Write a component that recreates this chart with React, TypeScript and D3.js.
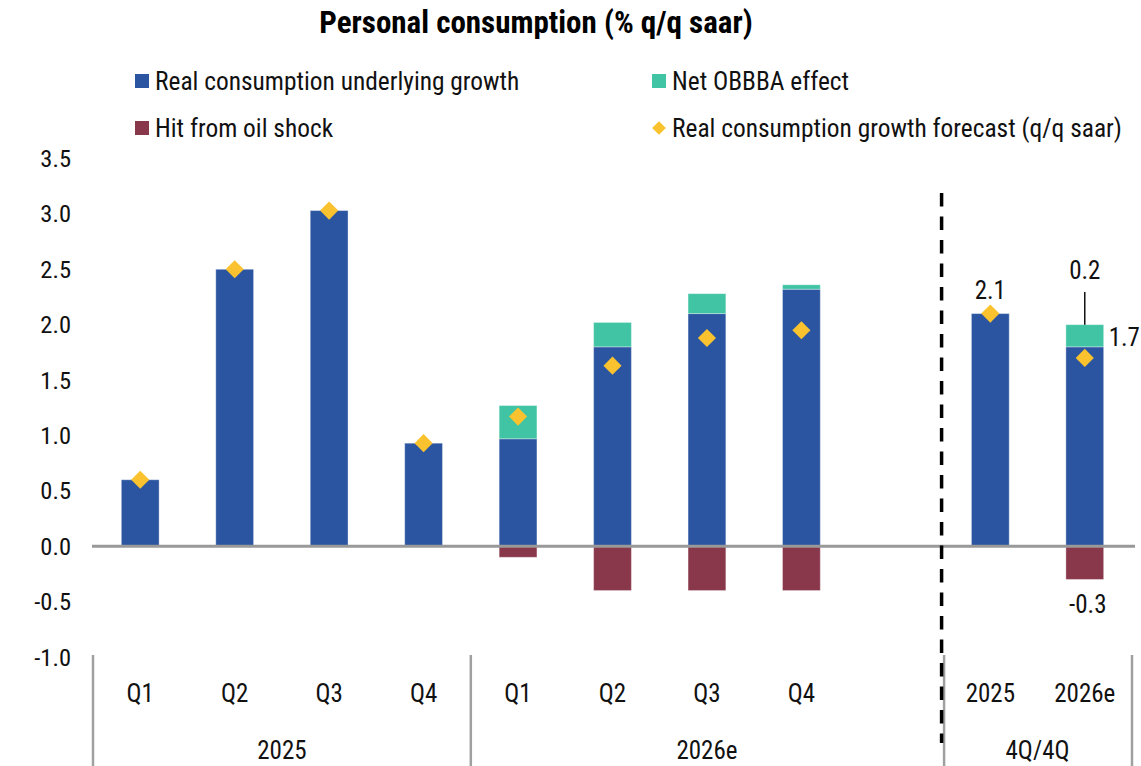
import React from 'react';
import * as d3 from 'd3';

// chart values
const categories = ['25Q1', '25Q2', '25Q3', '25Q4', '26Q1', '26Q2', '26Q3', '26Q4', 'gap', '4Q25', '4Q26'];
const tickLabels = ['Q1', 'Q2', 'Q3', 'Q4', 'Q1', 'Q2', 'Q3', 'Q4', '', '2025', '2026e'];
const underlying = [0.6, 2.5, 3.03, 0.93, 0.97, 1.8, 2.1, 2.32, null, 2.1, 1.8];
const obbba = [0, 0, 0, 0, 0.3, 0.22, 0.18, 0.04, null, 0, 0.2];
const oilHit = [0, 0, 0, 0, -0.1, -0.4, -0.4, -0.4, null, 0, -0.3];
const forecast = [0.6, 2.5, 3.03, 0.93, 1.17, 1.63, 1.88, 1.95, null, 2.1, 1.7];
const groupLabels = ['2025', '2026e', '4Q/4Q'];
const groupStart = ['25Q1', '26Q1', '4Q25'];
const groupEnd = ['25Q4', 'gap', '4Q26'];
const yTicks = [-1, -0.5, 0, 0.5, 1, 1.5, 2, 2.5, 3, 3.5];

const W = 1141;
const H = 766;
const FONT = "'Roboto Condensed', 'DejaVu Sans Condensed', 'Liberation Sans Narrow', Roboto, sans-serif";

const BLUE = '#2b55a1';
const GREEN = '#40c4a4';
const RED = '#89374a';
const YELLOW = '#f9c22e';

// hyphen instead of unicode minus, like the original
const fmt = (v) => d3.format('.1f')(v).replace('\u2212', '-');

const App = () => {
  const x = d3.scaleBand().domain(categories).range([93, 1132]).padding(0);
  const y = d3.scaleLinear().domain([-1, 3.5]).range([657, 158.5]);
  const bw = x.bandwidth() * 0.4;
  const cx = (c) => x(c) + x.bandwidth() / 2;

  const bars = [];
  categories.forEach((c, i) => {
    if (underlying[i] == null) return;
    const b = underlying[i];
    bars.push({ key: c + 'u', c, y0: 0, y1: b, fill: BLUE });
    if (obbba[i] > 0) bars.push({ key: c + 'g', c, y0: b, y1: b + obbba[i], fill: GREEN });
    if (oilHit[i] < 0) bars.push({ key: c + 'r', c, y0: oilHit[i], y1: 0, fill: RED });
  });

  const diamond = d3.symbol().type(d3.symbolDiamond2).size(210)();

  const last = categories.length - 1;
  const prev = categories.length - 2;
  const sepX = [x('25Q1'), x('26Q1'), x('4Q25') + 1, x(categories[last]) + x.bandwidth()];

  return (
    <div style={{ position: 'absolute', left: 0, top: 0 }}>
      <svg width={W} height={H} style={{ display: 'block', fontFamily: FONT }}>
        <rect width={W} height={H} fill="#fff" />
        <text x={536} y={33} textAnchor="middle" fontSize={31} fontWeight="bold" fill="#000">
          Personal consumption (% q/q saar)
        </text>

        {/* legend */}
        <g fontSize={25.4} fill="#111">
          <rect x={135} y={74} width={14} height={14} fill={BLUE} />
          <text x={155} y={90}>Real consumption underlying growth</text>
          <rect x={135} y={121} width={14} height={14} fill={RED} />
          <text x={155} y={137}>Hit from oil shock</text>
          <rect x={652} y={74} width={14} height={14} fill={GREEN} />
          <text x={672} y={90}>Net OBBBA effect</text>
          <path d={d3.symbol().type(d3.symbolDiamond2).size(120)()} transform="translate(659,128)" fill={YELLOW} />
          <text x={672} y={137}>Real consumption growth forecast (q/q saar)</text>
        </g>

        {/* y axis labels */}
        <g fontSize={24.5} fill="#111" textAnchor="end">
          {yTicks.map((t) => (
            <text key={t} x={71} y={y(t) + 8.5}>{fmt(t)}</text>
          ))}
        </g>

        {/* bars */}
        {bars.map((d) => (
          <rect key={d.key} x={cx(d.c) - bw / 2} y={y(d.y1)} width={bw} height={y(d.y0) - y(d.y1)}
            fill={d.fill} stroke="#fff" strokeOpacity={0.35} strokeWidth={1} />
        ))}

        {/* zero line */}
        <line x1={92} x2={1135} y1={y(0)} y2={y(0)} stroke="#999" strokeWidth={3} />

        {/* forecast diamonds */}
        {categories.map((c, i) => forecast[i] == null ? null : (
          <path key={c + 'd'} d={diamond} transform={`translate(${cx(c)},${y(forecast[i])})`} fill={YELLOW} />
        ))}

        {/* category separators */}
        {sepX.map((sx, i) => (
          <line key={'s' + i} x1={sx} x2={sx} y1={655} y2={H} stroke="#a0a0a0" strokeWidth={2.5} />
        ))}

        {/* dashed divider */}
        <line x1={x('4Q25') - 1.5} x2={x('4Q25') - 1.5} y1={193} y2={743} stroke="#000" strokeWidth={3.5} strokeDasharray="13.5,10" />

        {/* tick labels */}
        <g fontSize={25} fill="#111" textAnchor="middle">
          {categories.map((c, i) => (
            <text key={c + 't'} x={cx(c)} y={702}>{tickLabels[i]}</text>
          ))}
          {groupLabels.map((g, i) => {
            const a = x(groupStart[i]);
            const b = x(groupEnd[i]) + x.bandwidth();
            return <text key={g} x={(a + b) / 2} y={759}>{g}</text>;
          })}
        </g>

        {/* annotations */}
        <g fontSize={25} fill="#111">
          <text x={cx(categories[prev])} y={y(forecast[prev]) - 15} textAnchor="middle">
            {fmt(forecast[prev])}
          </text>
          <line x1={cx(categories[last])} x2={cx(categories[last])} y1={292}
            y2={y(underlying[last] + obbba[last])} stroke="#111" strokeWidth={1.5} />
          <text x={cx(categories[last])} y={279} textAnchor="middle">{fmt(obbba[last])}</text>
          <text x={cx(categories[last]) + bw / 2 + 5} y={y(forecast[last]) - 12}>
            {fmt(forecast[last])}
          </text>
          <text x={cx(categories[last]) + 3} y={y(oilHit[last]) + 34} textAnchor="middle">
            {fmt(oilHit[last])}
          </text>
        </g>
      </svg>
    </div>
  );
};

export default App;
